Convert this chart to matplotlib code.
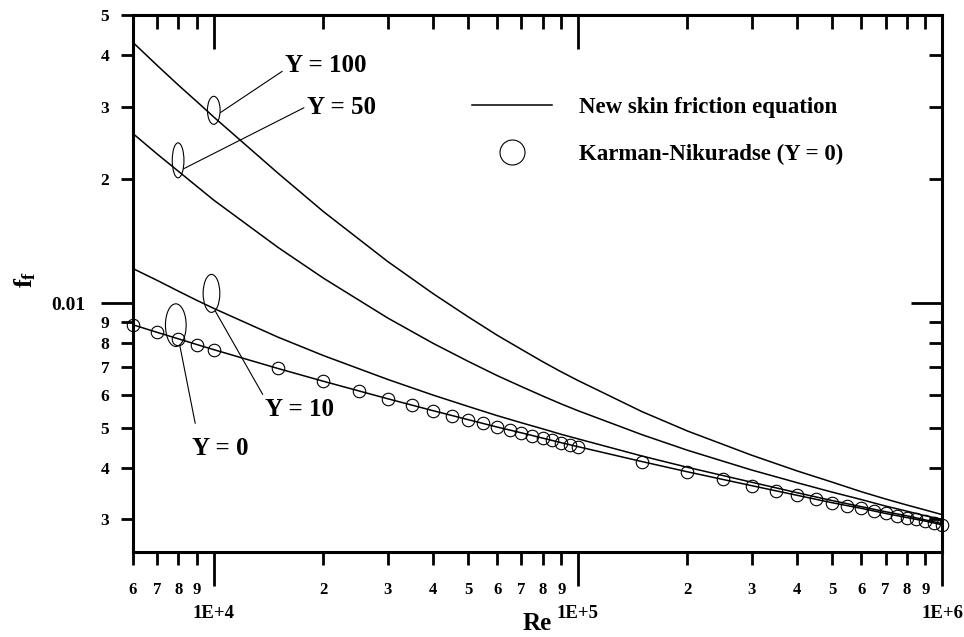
import matplotlib
matplotlib.use('Agg')
import matplotlib.pyplot as plt
import matplotlib.transforms as mtransforms
from matplotlib.patches import Ellipse
from matplotlib.lines import Line2D
from matplotlib.ticker import FixedLocator, FixedFormatter

plt.rcParams['font.family'] = ['Liberation Serif', 'DejaVu Serif']
plt.rcParams['font.weight'] = 'bold'
plt.rcParams['mathtext.fontset'] = 'custom'
plt.rcParams['mathtext.rm'] = 'Liberation Serif:bold'
plt.rcParams['mathtext.bf'] = 'Liberation Serif:bold'
plt.rcParams['mathtext.it'] = 'Liberation Serif:bold'

# ---------------- data ----------------
# Karman-Nikuradse points (Y = 0)
re_kn = [6000, 7000, 8000, 9000, 10000, 15000, 20000, 25000, 30000, 35000,
         40000, 45000, 50000, 55000, 60000, 65000, 70000, 75000, 80000, 85000,
         90000, 95000, 100000, 150000, 200000, 250000, 300000, 350000, 400000,
         450000, 500000, 550000, 600000, 650000, 700000, 750000, 800000, 850000,
         900000, 950000, 1000000]
f_kn = [0.00888, 0.00851, 0.00821, 0.00795, 0.00773, 0.00696, 0.00648, 0.00614,
        0.00588, 0.00567, 0.00550, 0.00535, 0.00523, 0.00512, 0.00502, 0.00493,
        0.00486, 0.00478, 0.00472, 0.00466, 0.00460, 0.00455, 0.00450, 0.00414,
        0.00391, 0.00375, 0.00362, 0.00351, 0.00343, 0.00336, 0.00329, 0.00324,
        0.00319, 0.00314, 0.00310, 0.00306, 0.00303, 0.00300, 0.00297, 0.00294,
        0.00291]

# New skin friction equation curves
re_curve = [6000, 7000, 8000, 9000, 10000, 15000, 20000, 30000, 40000, 50000,
            60000, 70000, 80000, 90000, 100000, 150000, 200000, 300000, 400000,
            500000, 600000, 700000, 800000, 900000, 1000000]
f_y0 = [0.00888, 0.00851, 0.00821, 0.00795, 0.00773, 0.00696, 0.00648, 0.00588,
        0.00550, 0.00523, 0.00502, 0.00486, 0.00472, 0.00460, 0.00450, 0.00414,
        0.00391, 0.00362, 0.00343, 0.00329, 0.00319, 0.00310, 0.00303, 0.00297,
        0.00291]
f_y10 = [0.01215, 0.01137, 0.01071, 0.01017, 0.00973, 0.00829, 0.00748, 0.00655,
         0.00600, 0.00563, 0.00535, 0.00514, 0.00497, 0.00482, 0.00470, 0.00427,
         0.00401, 0.00369, 0.00348, 0.00333, 0.00322, 0.00313, 0.00306, 0.00299,
         0.00293]
f_y50 = [0.0258, 0.0230, 0.0209, 0.0192, 0.0178, 0.01368, 0.01152, 0.00923,
         0.00801, 0.00724, 0.00669, 0.00629, 0.00597, 0.00571, 0.00550, 0.00481,
         0.00441, 0.00395, 0.00368, 0.00349, 0.00335, 0.00323, 0.00314, 0.00306,
         0.00300]
f_y100 = [0.0429, 0.0377, 0.0338, 0.0308, 0.0283, 0.0207, 0.0167, 0.01265,
          0.01057, 0.00928, 0.00838, 0.00774, 0.00723, 0.00683, 0.00651, 0.00547,
          0.00491, 0.00429, 0.00393, 0.00369, 0.00350, 0.00336, 0.00325, 0.00316,
          0.00308]

# ticks
x_major_ticks = [1e4, 1e5, 1e6]
x_major_labels = ['1E+4', '1E+5', '1E+6']
x_minor_ticks = [6000, 7000, 8000, 9000,
                 20000, 30000, 40000, 50000, 60000, 70000, 80000, 90000,
                 200000, 300000, 400000, 500000, 600000, 700000, 800000, 900000]
x_minor_labels = ['6', '7', '8', '9',
                  '2', '3', '4', '5', '6', '7', '8', '9',
                  '2', '3', '4', '5', '6', '7', '8', '9']
y_major_ticks = [0.01]
y_major_labels = ['0.01']
y_minor_ticks = [0.003, 0.004, 0.005, 0.006, 0.007, 0.008, 0.009,
                 0.02, 0.03, 0.04, 0.05]
y_minor_labels = ['3', '4', '5', '6', '7', '8', '9', '2', '3', '4', '5']

# ---------------- figure ----------------
W, H = 964, 637
fig = plt.figure(figsize=(W / 100, H / 100), dpi=100)
L, R, T, B = 133, 942, 15, 552
rect = [L / W, 1 - B / H, (R - L) / W, (B - T) / H]
ax = fig.add_axes(rect)
ax.set_xscale('log')
ax.set_yscale('log')

for fy in (f_y100, f_y50, f_y10, f_y0):
    ax.plot(re_curve, fy, color='black', lw=1.1)
ax.plot(re_kn, f_kn, linestyle='none', marker='o', ms=9, mfc='none',
        mec='black', mew=0.8, clip_on=False)

ax.set_xlim(6000, 1e6)
ax.set_ylim(0.0025, 0.05)

ax.xaxis.set_major_locator(FixedLocator(x_major_ticks))
ax.xaxis.set_major_formatter(FixedFormatter(x_major_labels))
ax.xaxis.set_minor_locator(FixedLocator(x_minor_ticks))
ax.xaxis.set_minor_formatter(FixedFormatter(x_minor_labels))
ax.yaxis.set_major_locator(FixedLocator(y_major_ticks))
ax.yaxis.set_major_formatter(FixedFormatter(y_major_labels))
ax.yaxis.set_minor_locator(FixedLocator(y_minor_ticks))
ax.yaxis.set_minor_formatter(FixedFormatter(y_minor_labels))

ax.tick_params(top=False, right=False)
ax.tick_params(axis='x', which='major', direction='out', length=24.5, width=2,
               pad=13.5, labelsize=13.5)
ax.tick_params(axis='x', which='minor', direction='out', length=9.4, width=2,
               pad=12.5, labelsize=12)
ax.tick_params(axis='y', which='major', direction='out', length=23, width=2,
               pad=11, labelsize=14)
ax.tick_params(axis='y', which='minor', direction='out', length=8.6, width=2,
               pad=8.5, labelsize=12.5)
for sp in ax.spines.values():
    sp.set_linewidth(2.2)

# inward ticks on top and right
ax2 = fig.add_axes(rect, sharex=ax, sharey=ax, frameon=False)
ax2.patch.set_visible(False)
ax2.tick_params(which='both', direction='in', bottom=False, left=False,
                top=True, right=True, labelbottom=False, labelleft=False,
                labeltop=False, labelright=False, width=2)
ax2.tick_params(axis='x', which='major', length=24.5)
ax2.tick_params(axis='x', which='minor', length=10)
ax2.tick_params(axis='y', which='major', length=22)
ax2.tick_params(axis='y', which='minor', length=9.4)

# axis labels
ax.set_xlabel('Re', fontsize=18, fontweight='bold')
ax.xaxis.set_label_coords(0.5, -0.112)
ax.set_ylabel(r'$\mathbf{f}_{\mathbf{f}}$', fontsize=19, va='center')
ax.yaxis.set_label_coords(-0.1335, 0.508)

# annotations: ellipse + leader + label
def mark(re_val, curve, label, dx_px, dy_px, w_px, h_px, text_xy_px, relpos, shrinkA):
    idx = re_curve.index(re_val)
    f_val = curve[idx]
    trans = (mtransforms.Affine2D().scale(1 / 100.0) + fig.dpi_scale_trans +
             mtransforms.ScaledTranslation(re_val, f_val, ax.transData))
    ell = Ellipse((dx_px, dy_px), w_px, h_px, transform=trans, fill=False,
                  edgecolor='black', lw=0.8, clip_on=False)
    ax.add_patch(ell)
    ax.annotate(label, xy=(re_val, f_val), xycoords='data',
                xytext=(text_xy_px[0], H - text_xy_px[1]),
                textcoords='figure pixels', ha='left', va='center',
                fontsize=18, fontweight='bold',
                arrowprops=dict(arrowstyle='-', color='black', lw=0.8,
                                patchB=ell, shrinkA=shrinkA, shrinkB=0,
                                relpos=relpos))

mark(10000, f_y100, 'Y = 100', 0, 6.7, 12.7, 28, (285, 66), (0, 0.35), 0)
mark(8000, f_y50, 'Y = 50', -0.4, 11, 11.7, 35, (306.7, 107.5), (0, 0.55), 0)
mark(10000, f_y10, 'Y = 10', -2.3, 15, 16.7, 38, (265, 410), (0, 1), 1)
mark(8000, f_y0, 'Y = 0', -2.7, 13.7, 20.7, 42.7, (191.7, 448.5), (0.11, 1), 8)

ax.set_xlim(6000, 1e6)
ax.set_ylim(0.0025, 0.05)

# legend
handles = [Line2D([], [], color='black', lw=1.1),
           Line2D([], [], linestyle='none', marker='o', ms=18, mfc='none',
                  mec='black', mew=0.8)]
labels = ['New skin friction equation', 'Karman-Nikuradse (Y = 0)']
ax.legend(handles, labels, loc='upper left',
          bbox_to_anchor=(471.7 / W, 1 - 97 / H), bbox_transform=fig.transFigure,
          frameon=False, borderpad=0, borderaxespad=0, handlelength=3.5,
          handletextpad=1.2, labelspacing=1.12,
          prop={'weight': 'bold', 'size': 16.5})

fig.savefig('out.png', dpi=100)
